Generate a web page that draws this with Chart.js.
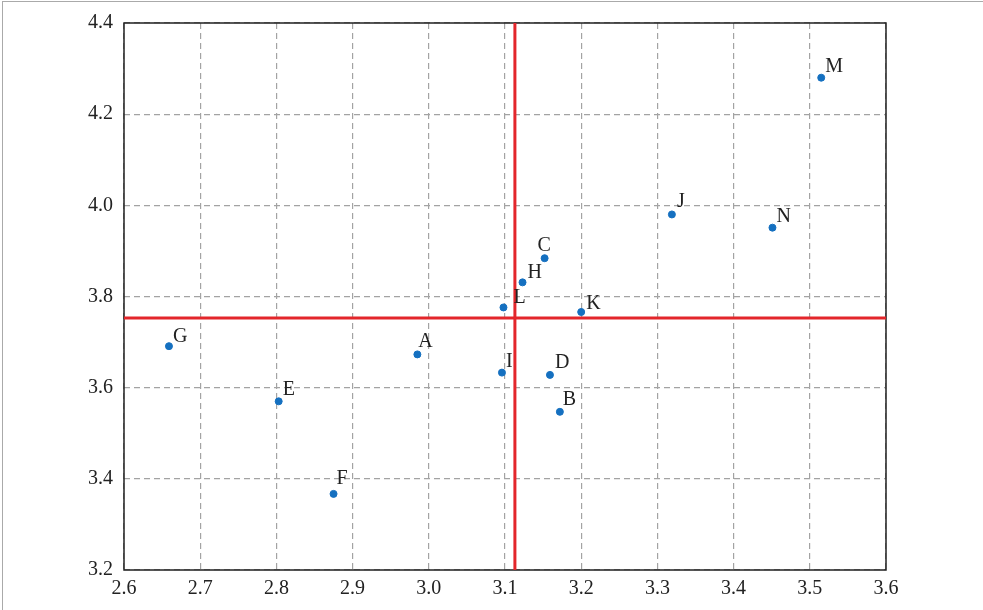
<!DOCTYPE html>
<html>
<head>
<meta charset="utf-8">
<script src="https://cdn.jsdelivr.net/npm/chart.js@4.4.1/dist/chart.umd.min.js"></script>
<style>
  body { margin: 0; background: #fff; }
</style>
</head>
<body>
<canvas id="chart" width="983" height="610"></canvas>
<script>
var names = ["A", "B", "C", "D", "E", "F", "G", "H", "I", "J", "K", "L", "M", "N"];
var xVals = [2.985, 3.172, 3.152, 3.159, 2.803, 2.875, 2.659, 3.123, 3.096, 3.319, 3.200, 3.098, 3.515, 3.451];
var yVals = [3.673, 3.547, 3.884, 3.628, 3.570, 3.367, 3.691, 3.831, 3.633, 3.980, 3.766, 3.776, 4.280, 3.951];
var xMean = 3.113;
var yMean = 3.753;
var xTicks = [2.6, 2.7, 2.8, 2.9, 3.0, 3.1, 3.2, 3.3, 3.4, 3.5, 3.6];
var yTicks = [3.2, 3.4, 3.6, 3.8, 4.0, 4.2, 4.4];

// where each letter sits relative to its dot, in pixels
var labelDx = [1, 3, -7, 5, 4, 3, 4, 5, 4, 5, 5, 10, 4, 4];
var labelDy = [-7, -7, -7, -7, -6, -10, -4, -4, -6, -7, -3, -4, -6, -6];

var serif = '"Liberation Serif", "DejaVu Serif", serif';

var points = xVals.map(function(x, i) { return { x: x, y: yVals[i] }; });

// letters next to each dot
var pointLabels = {
  id: 'pointLabels',
  afterDatasetsDraw: function(chart) {
    var ctx = chart.ctx;
    var xs = chart.scales.x, ys = chart.scales.y;
    ctx.save();
    ctx.fillStyle = '#222';
    ctx.font = '20px ' + serif;
    ctx.textAlign = 'left';
    ctx.textBaseline = 'alphabetic';
    for (var i = 0; i < names.length; i++) {
      ctx.fillText(names[i], xs.getPixelForValue(xVals[i]) + labelDx[i], ys.getPixelForValue(yVals[i]) + labelDy[i]);
    }
    ctx.restore();
  }
};

// solid box round the plot and thin gray frame round the picture
var frame = {
  id: 'frame',
  beforeDatasetsDraw: function(chart) {
    var a = chart.chartArea, ctx = chart.ctx;
    ctx.save();
    ctx.strokeStyle = '#222';
    ctx.lineWidth = 1.5;
    ctx.strokeRect(a.left, a.top, a.right - a.left, a.bottom - a.top);
    ctx.restore();
  },
  afterDraw: function(chart) {
    var ctx = chart.ctx;
    ctx.save();
    ctx.strokeStyle = '#aaa';
    ctx.lineWidth = 1;
    ctx.strokeRect(2.5, 1.5, 1100, 1100);
    ctx.restore();
  }
};

var ctx = document.getElementById("chart").getContext("2d");
var myChart = new Chart(ctx, {
  type: 'scatter',
  data: {
    datasets: [
      {
        label: 'points',
        data: points,
        backgroundColor: '#1570c0',
        borderColor: '#1570c0',
        pointRadius: 3.5,
        pointHoverRadius: 3.5
      },
      {
        label: 'xmean',
        type: 'line',
        data: [{ x: xMean, y: yTicks[0] }, { x: xMean, y: yTicks[yTicks.length - 1] }],
        borderColor: '#e3262b',
        borderWidth: 3,
        pointRadius: 0,
        fill: false
      },
      {
        label: 'ymean',
        type: 'line',
        data: [{ x: xTicks[0], y: yMean }, { x: xTicks[xTicks.length - 1], y: yMean }],
        borderColor: '#e3262b',
        borderWidth: 3,
        pointRadius: 0,
        fill: false
      }
    ]
  },
  options: {
    responsive: false,
    animation: false,
    layout: { padding: { left: 0, top: 20, right: 97, bottom: 0 } },
    plugins: { legend: { display: false }, tooltip: { enabled: false } },
    scales: {
      x: {
        type: 'linear',
        min: xTicks[0],
        max: xTicks[xTicks.length - 1],
        afterBuildTicks: function(s) { s.ticks = xTicks.map(function(v) { return { value: v }; }); },
        afterFit: function(s) { s.height = 40; },
        grid: { color: '#a3a3a3', lineWidth: 1.2, drawTicks: false },
        border: { display: false, dash: [6, 4] },
        ticks: {
          padding: 7,
          color: '#222',
          font: { family: serif, size: 20 },
          callback: function(v) { return v.toFixed(1); }
        }
      },
      y: {
        type: 'linear',
        min: yTicks[0],
        max: yTicks[yTicks.length - 1],
        afterBuildTicks: function(s) { s.ticks = yTicks.map(function(v) { return { value: v }; }); },
        afterFit: function(s) { s.width = 124; },
        grid: { color: '#a3a3a3', lineWidth: 1.2, drawTicks: false },
        border: { display: false, dash: [6, 4] },
        ticks: {
          padding: 11,
          color: '#222',
          font: { family: serif, size: 20 },
          callback: function(v) { return v.toFixed(1); }
        }
      }
    }
  },
  plugins: [pointLabels, frame]
});
</script>
</body>
</html>
